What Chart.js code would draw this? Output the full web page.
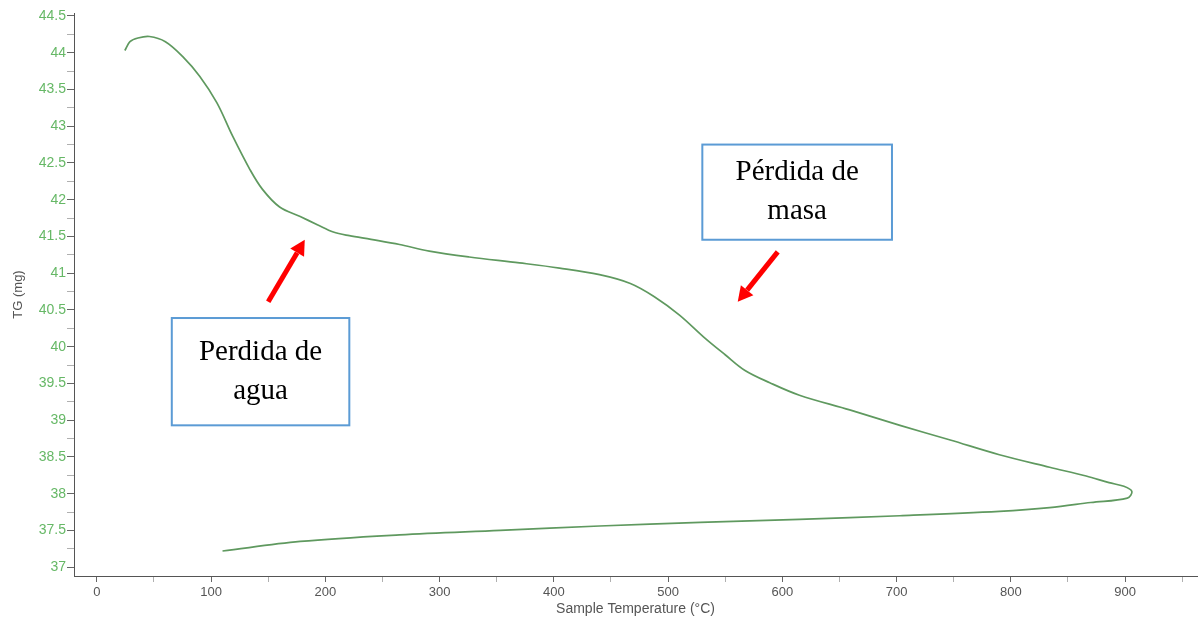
<!DOCTYPE html>
<html>
<head>
<meta charset="utf-8">
<script src="https://cdn.jsdelivr.net/npm/chart.js@4/dist/chart.umd.min.js"></script>
<style>
  html, body { margin: 0; padding: 0; background: #ffffff; }
  #wrap { width: 1200px; height: 624px; position: relative; }
</style>
</head>
<body>
<div id="wrap"><canvas id="tg" width="1200" height="624"></canvas></div>
<script>
// Heating run: sample temperature (°C) and mass (mg)
const heatTemp = [24.5, 29, 36, 46, 60, 75, 90, 105, 119, 134, 145, 160, 178, 193, 207, 221, 240, 265, 291, 326, 370, 405, 440, 467, 488, 510, 532, 550, 567, 589, 615, 659, 703, 747, 790, 834, 866, 886, 899, 906];
const heatMass = [44.03, 44.15, 44.20, 44.22, 44.15, 43.95, 43.68, 43.32, 42.86, 42.41, 42.14, 41.90, 41.77, 41.66, 41.56, 41.51, 41.46, 41.39, 41.30, 41.22, 41.14, 41.07, 40.98, 40.86, 40.68, 40.43, 40.12, 39.89, 39.68, 39.51, 39.34, 39.14, 38.93, 38.73, 38.53, 38.36, 38.24, 38.15, 38.10, 38.03];
// Cooling run back down to about 110 °C
const coolTemp = [902, 870, 834, 790, 703, 615, 528, 440, 353, 265, 178, 110];
const coolMass = [37.94, 37.88, 37.81, 37.76, 37.70, 37.65, 37.61, 37.56, 37.50, 37.44, 37.35, 37.22];

// Axis ranges and tick spacing
const xRange = [-20, 963];
const yRange = [36.88, 44.54];
const xMajor = 100, xMinor = 50;
const yMajor = 0.5, yMinor = 0.25;

// Callout boxes and arrows, placed in data units
const notes = [
  { x0: 65.6, x1: 221, y0: 40.39, y1: 38.93, lines: ['Perdida de', 'agua'] },
  { x0: 530, x1: 696, y0: 42.75, y1: 41.455, lines: ['Pérdida de', 'masa'] }
];
const arrows = [
  { from: [150, 40.61], to: [182, 41.455] },
  { from: [596, 41.29], to: [561, 40.61] }
];

const points = [];
heatTemp.forEach((t, i) => points.push({ x: t, y: heatMass[i] }));
coolTemp.forEach((t, i) => points.push({ x: t, y: coolMass[i] }));

const isMult = (v, s) => Math.abs(v / s - Math.round(v / s)) < 1e-6;

// Evenly spaced ticks (major and minor) inside the axis range
function stepTicks(min, max, step) {
  const out = [];
  for (let k = Math.ceil(min / step - 1e-9); k * step <= max + 1e-9; k++) {
    out.push({ value: Math.round(k * step * 1000) / 1000 });
  }
  return out;
}

const calloutPlugin = {
  id: 'callouts',
  afterDraw(chart) {
    const { ctx, scales: { x, y } } = chart;
    ctx.save();
    arrows.forEach(a => {
      const x0 = x.getPixelForValue(a.from[0]), y0 = y.getPixelForValue(a.from[1]);
      const x1 = x.getPixelForValue(a.to[0]), y1 = y.getPixelForValue(a.to[1]);
      const ang = Math.atan2(y1 - y0, x1 - x0);
      const headLen = 15, headW = 8;
      const bx = x1 - headLen * Math.cos(ang), by = y1 - headLen * Math.sin(ang);
      ctx.strokeStyle = '#ff0000';
      ctx.fillStyle = '#ff0000';
      ctx.lineWidth = 5;
      ctx.lineCap = 'butt';
      ctx.beginPath();
      ctx.moveTo(x0, y0);
      ctx.lineTo(bx, by);
      ctx.stroke();
      ctx.beginPath();
      ctx.moveTo(x1, y1);
      ctx.lineTo(bx + headW * Math.sin(ang), by - headW * Math.cos(ang));
      ctx.lineTo(bx - headW * Math.sin(ang), by + headW * Math.cos(ang));
      ctx.closePath();
      ctx.fill();
    });
    notes.forEach(n => {
      const left = x.getPixelForValue(n.x0), right = x.getPixelForValue(n.x1);
      const top = y.getPixelForValue(n.y0), bottom = y.getPixelForValue(n.y1);
      ctx.fillStyle = '#ffffff';
      ctx.fillRect(left, top, right - left, bottom - top);
      ctx.strokeStyle = '#5b9bd5';
      ctx.lineWidth = 2;
      ctx.strokeRect(left, top, right - left, bottom - top);
      ctx.fillStyle = '#000000';
      ctx.font = '29px "Liberation Serif", "Times New Roman", serif';
      ctx.textAlign = 'center';
      ctx.textBaseline = 'middle';
      const cx = (left + right) / 2, cy = (top + bottom) / 2;
      const lh = 39;
      n.lines.forEach((s, i) => {
        ctx.fillText(s, cx, cy + (i - (n.lines.length - 1) / 2) * lh);
      });
    });
    ctx.restore();
  }
};

new Chart(document.getElementById('tg'), {
  type: 'scatter',
  data: {
    datasets: [{
      data: points,
      showLine: true,
      borderColor: '#5f995f',
      borderWidth: 1.7,
      pointRadius: 0,
      tension: 0.35,
      fill: false
    }]
  },
  options: {
    responsive: false,
    animation: false,
    devicePixelRatio: 1,
    layout: { padding: { top: 13, right: 3, left: 0, bottom: 0 } },
    plugins: { legend: { display: false }, tooltip: { enabled: false } },
    scales: {
      x: {
        type: 'linear',
        min: xRange[0],
        max: xRange[1],
        afterFit(s) { s.height = 48; },
        afterBuildTicks(s) { s.ticks = stepTicks(s.min, s.max, xMinor); },
        ticks: {
          autoSkip: false,
          maxRotation: 0,
          padding: 3,
          color: '#555555',
          font: { family: '"Liberation Sans", Arial, sans-serif', size: 13 },
          callback: v => isMult(v, xMajor) ? String(Math.round(v)) : ''
        },
        grid: {
          drawOnChartArea: false,
          drawTicks: true,
          tickLength: 6,
          color: ctx => (ctx.tick && isMult(ctx.tick.value, xMajor)) ? '#666666' : '#b0b0b0'
        },
        border: { display: true, color: '#555555', width: 1 },
        title: {
          display: true,
          text: 'Sample Temperature (°C)',
          color: '#555555',
          font: { family: '"Liberation Sans", Arial, sans-serif', size: 14 },
          padding: { top: 0, bottom: 6 }
        }
      },
      y: {
        type: 'linear',
        min: yRange[0],
        max: yRange[1],
        afterFit(s) { s.width = 74; },
        afterBuildTicks(s) { s.ticks = stepTicks(s.min, s.max, yMinor); },
        ticks: {
          autoSkip: false,
          padding: 1,
          color: '#66b866',
          font: { family: '"Liberation Sans", Arial, sans-serif', size: 14 },
          callback: v => isMult(v, yMajor) ? String(Math.round(v * 10) / 10) : ''
        },
        grid: {
          drawOnChartArea: false,
          drawTicks: true,
          tickLength: 7,
          color: ctx => (ctx.tick && isMult(ctx.tick.value, yMajor)) ? '#666666' : '#b0b0b0'
        },
        border: { display: true, color: '#555555', width: 1 },
        title: {
          display: true,
          text: 'TG (mg)',
          color: '#555555',
          font: { family: '"Liberation Sans", Arial, sans-serif', size: 13 },
          padding: { top: 11, bottom: 0 }
        }
      }
    }
  },
  plugins: [calloutPlugin]
});
</script>
</body>
</html>
